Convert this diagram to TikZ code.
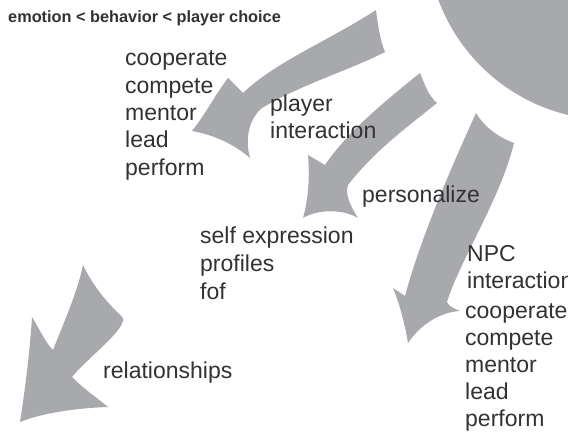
\documentclass[tikz,border=0pt]{standalone}
\usepackage{fontspec}
\setmainfont{Liberation Sans}
\definecolor{arrowgray}{RGB}{168,169,173}
\definecolor{txtgray}{RGB}{50,50,52}
\begin{document}
\begin{tikzpicture}[x=1pt,y=-1pt,
  swoosh/.style={fill=arrowgray, draw=none},
  lbl/.style={anchor=base west, inner sep=0pt, text=txtgray, font=\fontsize{23}{27}\selectfont},
  ttl/.style={anchor=base west, inner sep=0pt, text=txtgray, font=\fontsize{16.3}{19}\selectfont\bfseries}]
\useasboundingbox (0,0) rectangle (568,436);
\fill[white] (0,0) rectangle (568,436);
\begin{scope}
\clip (0,0) rectangle (568,436);
\fill[arrowgray] (611,-64) circle[radius=184pt];
\end{scope}
% arrow 1 (top)
\fill[swoosh] (376,10) .. controls (330,40) and (275,62) .. (243,93)
  -- (228,78) .. controls (215,95) and (205,115) .. (192,131)
  .. controls (215,135) and (235,145) .. (250,158)
  .. controls (245,140) and (248,120) .. (262,108)
  .. controls (300,85) and (350,70) .. (385,52)
  .. controls (380,40) and (378,25) .. (376,10) -- cycle;
% arrow 2 (middle)
\fill[swoosh] (420,73) .. controls (380,105) and (345,135) .. (325,165)
  -- (308,155) .. controls (310,180) and (308,200) .. (303,218)
  .. controls (320,208) and (345,210) .. (358,218)
  .. controls (350,205) and (345,195) .. (348,185)
  .. controls (375,150) and (410,125) .. (437,103)
  .. controls (428,95) and (425,85) .. (420,73) -- cycle;
% arrow 3 (right)
\fill[swoosh] (476,113) .. controls (450,170) and (420,240) .. (405,296)
  -- (393,288) .. controls (400,305) and (405,325) .. (408,343)
  .. controls (420,325) and (440,312) .. (460,311)
  .. controls (452,308) and (448,305) .. (447,302)
  .. controls (460,260) and (500,200) .. (514,143)
  .. controls (500,138) and (485,128) .. (476,113) -- cycle;
% arrow 4 (bottom left)
\fill[swoosh] (83,265) .. controls (95,290) and (110,305) .. (123,318)
  .. controls (126,330) and (85,360) .. (72,377)
  .. controls (85,390) and (100,400) .. (108,407)
  .. controls (80,408) and (45,412) .. (20,422)
  .. controls (25,390) and (30,350) .. (32,317)
  .. controls (40,330) and (47,345) .. (53,350)
  .. controls (65,320) and (78,290) .. (83,265) -- cycle;
% texts
\node[ttl] (title) at (8,23) {emotion < behavior < player choice};
\node[lbl] (pa) at (125,66) {cooperate};
\node[lbl] (pb) at (125,93.3) {compete};
\node[lbl] (pc) at (125,120.6) {mentor};
\node[lbl] (pd) at (125,147.9) {lead};
\node[lbl] (pe) at (125,175.2) {perform};
\node[lbl] (pi1) at (270,111.7) {player};
\node[lbl] (pi2) at (270,138) {interaction};
\node[lbl] (pers) at (362,202.7) {personalize};
\node[lbl] (sa) at (200,243.3) {self expression};
\node[lbl] (sb) at (200,271.5) {profiles};
\node[lbl] (sc) at (200,299.7) {fof};
\node[lbl] (npc1) at (467,261.7) {NPC};
\node[lbl] (npc2) at (467,288) {interaction};
\node[lbl] (na) at (465,318) {cooperate};
\node[lbl] (nb) at (465,345) {compete};
\node[lbl] (nc) at (465,372) {mentor};
\node[lbl] (nd) at (465,399) {lead};
\node[lbl] (ne) at (465,426) {perform};
\node[lbl] (rel) at (103,378) {relationships};
\end{tikzpicture}
\end{document}
